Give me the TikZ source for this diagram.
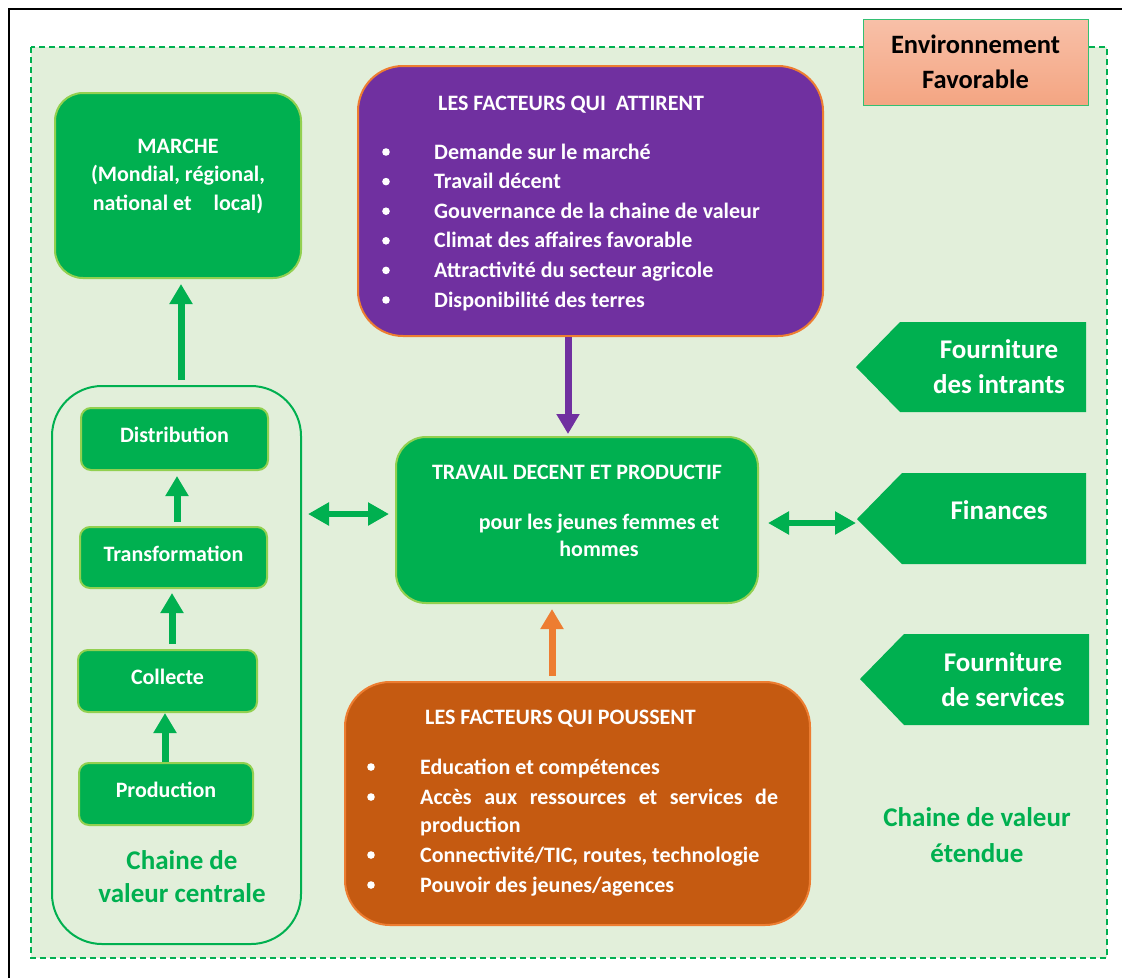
\documentclass[tikz,border=0pt]{standalone}
\usepackage{fontspec}
\setmainfont{Carlito}
\usetikzlibrary{arrows.meta,calc}

\definecolor{vgreen}{HTML}{00B050}
\definecolor{lgreen}{HTML}{92D050}
\definecolor{bgreen}{HTML}{E2EFDA}
\definecolor{vpurple}{HTML}{7030A0}
\definecolor{oline}{HTML}{ED7D31}
\definecolor{ofill}{HTML}{C55A11}
\definecolor{peachtop}{RGB}{248,192,168}
\definecolor{peachbot}{RGB}{244,165,130}

\newcommand{\uplift}[1]{\raisebox{4pt}[\height][\depth]{#1}}

\tikzset{
  gbox/.style={fill=vgreen, draw=lgreen, line width=2pt, inner sep=0pt},
  wtext/.style={text=white, inner sep=0pt, font=\bfseries\fontsize{22}{29.6}\selectfont},
  gtext/.style={text=vgreen, inner sep=0pt, align=center, font=\bfseries\fontsize{27}{35}\selectfont},
  ptext/.style={text=white, inner sep=0pt, align=center, font=\bfseries\fontsize{27}{35}\selectfont},
  fat/.style={line width=7pt, -{Triangle[length=20pt,width=22pt]}},
  dbl/.style={line width=6pt, vgreen, {Triangle[length=21pt,width=22pt]}-{Triangle[length=21pt,width=22pt]}},
  pent/.style={fill=vgreen},
}

\begin{document}
\begin{tikzpicture}[x=1pt,y=-1pt]
\useasboundingbox (0,0) rectangle (1122,978);
\fill[white] (0,0) rectangle (1122,978);

% page frame
\draw[black, line width=2.2pt] (9,978) -- (9,9) -- (1122,9);

% extended value chain area
\draw[vgreen, fill=bgreen, line width=2.4pt, dash pattern=on 6pt off 4pt] (31,47) rectangle (1107,958);

% enabling environment label
\node[draw=vgreen!80, line width=1pt, top color=peachtop, bottom color=peachbot,
      minimum width=225pt, minimum height=86pt, inner sep=0pt, align=center,
      font=\bfseries\fontsize{26.5}{35}\selectfont, text=black] (env) at (975.5,62) {Environnement\\Favorable};

% market
\node[gbox, rounded corners=28pt, minimum width=246pt, minimum height=185pt] (marche) at (178,185.5) {};
\node[wtext, align=center, font=\bfseries\fontsize{22}{28.5}\selectfont] (marchet) at (178,176)
  {MARCHE\\(Mondial, régional,\\national et\hspace{22pt}local)};

% core value chain
\node[draw=vgreen, line width=2pt, rounded corners=50pt, minimum width=249pt, minimum height=558pt, inner sep=0pt] (chain) at (176.5,665) {};
\node[gbox, rounded corners=10pt, minimum width=187pt, minimum height=62pt, wtext] (distr) at (174.5,439) {\uplift{Distribution}};
\node[gbox, rounded corners=10pt, minimum width=187pt, minimum height=61pt, wtext] (transf) at (173.5,557.5) {\uplift{Transformation}};
\node[gbox, rounded corners=10pt, minimum width=179pt, minimum height=62pt, wtext] (coll) at (167.5,681) {\uplift{Collecte}};
\node[gbox, rounded corners=10pt, minimum width=174pt, minimum height=62pt, wtext] (prod) at (166,794) {\uplift{Production}};
\node[gtext, font=\bfseries\fontsize{27}{33}\selectfont] (chaint) at (182,876.5) {Chaine de\\valeur centrale};

\draw[fat, vgreen] ([xshift=-1pt]prod.north) -- ([xshift=-2.5pt]coll.south);
\draw[fat, vgreen, shorten <=5pt, shorten >=4pt] ([xshift=4.5pt]coll.north) -- ([xshift=-1.5pt]transf.south);
\draw[fat, vgreen, shorten <=4pt, shorten >=5pt] ([xshift=3.5pt]transf.north) -- ([xshift=2.5pt]distr.south);
\draw[fat, vgreen, shorten <=5pt, shorten >=5pt] ([xshift=4.5pt]chain.north) -- ([xshift=3pt]marche.south);

% pull factors
\node[fill=vpurple, draw=oline, line width=2pt, rounded corners=45pt, minimum width=465pt, minimum height=270pt, inner sep=0pt] (pull) at (590.5,201) {};
\node[wtext, anchor=base west] (pullt) at (438,110) {LES FACTEURS QUI~~ATTIRENT};
\foreach \t [count=\i] in {Demande sur le marché, Travail décent, Gouvernance de la chaine de valeur,
    Climat des affaires favorable, Attractivité du secteur agricole, Disponibilité des terres}{
  \node[wtext, anchor=base west] (pull\i) at (434,{159+29.6*(\i-1)}) {\t};
  \fill[white] (386,{152+29.6*(\i-1)}) circle (3.8pt);
}

% decent work
\node[gbox, rounded corners=30pt, minimum width=362pt, minimum height=166pt] (trav) at (577,520) {};
\node[wtext] (travt) at (577,472) {TRAVAIL DECENT ET PRODUCTIF};
\node[wtext, align=center, font=\bfseries\fontsize{22}{27}\selectfont] (travs) at (599,535) {pour les jeunes femmes et\\hommes};

% push factors
\node[fill=ofill, draw=oline, line width=2pt, rounded corners=45pt, minimum width=465pt, minimum height=243pt, inner sep=0pt] (push) at (577.5,803.5) {};
\node[wtext, anchor=base west] (pusht) at (425,724) {LES FACTEURS QUI POUSSENT};
\node[wtext, anchor=base west] (push1) at (420,774) {Education et compétences};
\node[wtext, anchor=base west] (push2) at (420,804) {\makebox[358pt][s]{Accès aux ressources et services de}};
\node[wtext, anchor=base west] (push3) at (420,832) {production};
\node[wtext, anchor=base west] (push4) at (420,862) {Connectivité/TIC, routes, technologie};
\node[wtext, anchor=base west] (push5) at (420,892) {Pouvoir des jeunes/agences};
\foreach \yy in {767,797,855,885}{
  \fill[white] (371,\yy) circle (3.8pt);
}

% vertical links
\draw[fat, vpurple, shorten >=2pt] ([xshift=-22.5pt]pull.south) -- ([xshift=-9pt]trav.north);
\draw[fat, oline, shorten <=5pt, shorten >=5pt] ([xshift=-25.5pt]push.north) -- ([xshift=-25pt]trav.south);

% support services
\fill[pent] (856,367) coordinate (intip) -- (900,322) -- (1086,322) -- (1086,412) -- (900,412) -- cycle;
\node[ptext] (intr) at (999,366.5) {Fourniture\\des intrants};
\fill[pent] (857,519) coordinate (fintip) -- (902,473) -- (1086,473) -- (1086,564) -- (902,564) -- cycle;
\node[ptext] (fin) at (999,510) {Finances};
\fill[pent] (860,679) coordinate (servtip) -- (904,634) -- (1089,634) -- (1089,725) -- (904,725) -- cycle;
\node[ptext] (serv) at (1003,679.5) {Fourniture\\de services};

\node[gtext, font=\bfseries\fontsize{27}{36}\selectfont] (ext) at (977,835) {Chaine de valeur\\étendue};

% horizontal links
\draw[dbl] ($(trav.west -| chain.east)+(6,-6)$) -- ($(trav.west)+(-6,-6)$);
\draw[dbl] ($(trav.east)+(9,3)$) -- ($(fintip)+(-1,4)$);
\end{tikzpicture}
\end{document}
